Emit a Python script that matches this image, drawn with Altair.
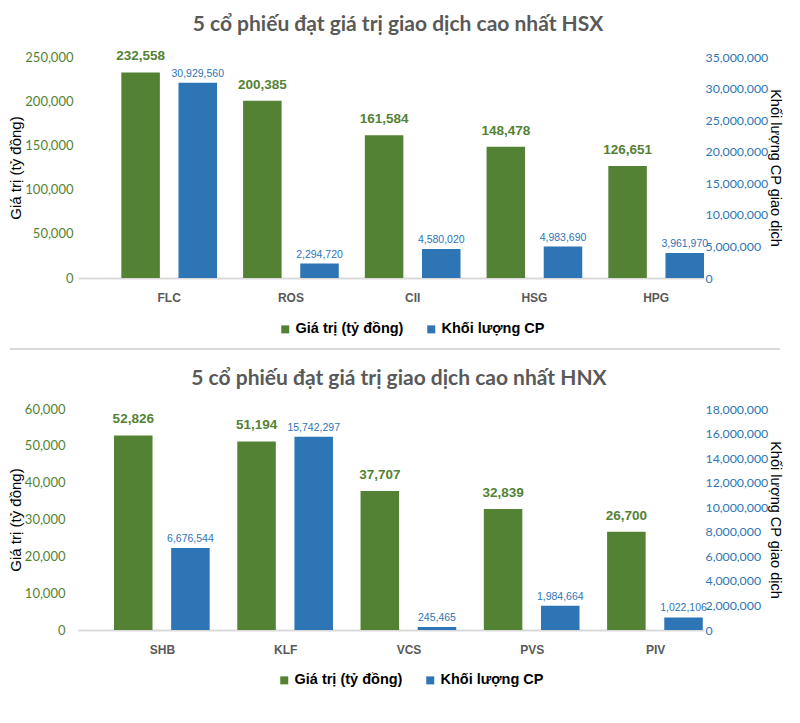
import altair as alt
import pandas as pd

# ---- data ----
hsx_tickers = ["FLC", "ROS", "CII", "HSG", "HPG"]
hsx_value = [232558, 200385, 161584, 148478, 126651]
hsx_volume = [30929560, 2294720, 4580020, 4983690, 3961970]

hnx_tickers = ["SHB", "KLF", "VCS", "PVS", "PIV"]
hnx_value = [52826, 51194, 37707, 32839, 26700]
hnx_volume = [6676544, 15742297, 245465, 1984664, 1022106]

S1 = "Giá trị (tỷ đồng)"
S2 = "Khối lượng CP"
GREEN = "#548235"
BLUE = "#2E75B6"
NARROW = "Liberation Sans Narrow, Liberation Sans, sans-serif"
AXFONT = "Lato"
W = 626


def panel(tickers, values, volumes, title, lmax, lstep, rmax, rstep, pad_outer,
          axis_offset, title_pad, legend_xy, title_dx, sep=False):
    df = pd.DataFrame({"ticker": tickers, "value": values, "volume": volumes})
    x = alt.X("ticker:N", sort=tickers,
              scale=alt.Scale(paddingInner=0.214, paddingOuter=pad_outer, align=1),
              axis=alt.Axis(title=None, labelAngle=0, labelFont="Liberation Sans",
                            labelFontWeight="bold", labelFontSize=12,
                            labelColor="#595959", labelPadding=14,
                            domainColor="#D9D9D9", domainWidth=2,
                            ticks=False, grid=False))
    xo = alt.XOffset("s:N", scale=alt.Scale(domain=[S1, S2], paddingInner=0.326,
                                            paddingOuter=0))
    color = alt.Color("s:N", scale=alt.Scale(domain=[S1, S2], range=[GREEN, BLUE]),
                      legend=alt.Legend(title=None, orient="none",
                                        legendX=legend_xy[0], legendY=legend_xy[1],
                                        direction="horizontal", symbolType="square",
                                        symbolSize=64, symbolStrokeWidth=0,
                                        labelFont="Liberation Sans",
                                        labelFontSize=14.5, labelFontWeight="bold",
                                        labelColor="#000000", labelOffset=3,
                                        columnPadding=20, padding=0))

    yl = alt.Y("value:Q", scale=alt.Scale(domain=[0, lmax], nice=False),
               axis=alt.Axis(orient="left", title=S1, offset=axis_offset,
                             values=list(range(0, lmax + 1, lstep)), format=",d",
                             labelFont=AXFONT, labelFontSize=13, labelColor=GREEN,
                             labelPadding=13, domain=False, ticks=False, grid=False,
                             titleFont="Liberation Sans", titleFontSize=15,
                             titleFontWeight="normal", titleColor="#000000",
                             titlePadding=title_pad))
    yr = alt.Y("volume:Q", scale=alt.Scale(domain=[0, rmax], nice=False),
               axis=alt.Axis(orient="right", title="Khối lượng CP giao dịch",
                             values=list(range(0, rmax + 1, rstep)), format=",d",
                             labelFont=AXFONT, labelFontSize=12.3, labelColor=BLUE,
                             labelPadding=1, domain=False, ticks=False, grid=False,
                             titleFont="Liberation Sans", titleFontSize=14.5,
                             titleFontWeight="normal", titleColor="#000000",
                             titlePadding=0))

    b1 = alt.Chart(df).transform_calculate(s=f"'{S1}'").encode(x=x, xOffset=xo, y=yl)
    left = alt.layer(
        b1.mark_bar(color=GREEN).encode(color=color),
        b1.mark_text(baseline="bottom", dy=-9, font=NARROW, fontSize=13.5,
                     fontWeight="bold", color=GREEN).encode(
            text=alt.Text("value:Q", format=",d")),
    )
    b2 = alt.Chart(df).transform_calculate(s=f"'{S2}'").encode(x=x, xOffset=xo, y=yr)
    right = alt.layer(
        b2.mark_bar(color=BLUE).encode(color=color),
        b2.mark_text(baseline="bottom", dy=-4, font=NARROW, fontSize=10.5,
                     color=BLUE).encode(text=alt.Text("volume:Q", format=",d")),
    )
    layers = [left, right]
    if sep:
        layers.append(
            alt.Chart(df).mark_rule(color="#D9D9D9", strokeWidth=1.5).encode(
                x=alt.value(-68), x2=alt.value(W + 76), y=alt.value(292))
        )
    return alt.layer(*layers).resolve_scale(y="independent").properties(
        width=W, height=221,
        title=alt.TitleParams(title, font="Lato", fontSize=21, fontWeight="bold",
                              color="#595959", anchor="middle", offset=14, dx=title_dx),
    )


top = panel(hsx_tickers, hsx_value, hsx_volume,
            "5 cổ phiếu đạt giá trị giao dịch cao nhất HSX",
            250000, 50000, 35000000, 5000000, 0.178, -8, 1, (200, 265), 7, sep=True)
bottom = panel(hnx_tickers, hnx_value, hnx_volume,
               "5 cổ phiếu đạt giá trị giao dịch cao nhất HNX",
               60000, 10000, 18000000, 2000000, 0.146, 0, 1, (199, 264), 8)

chart = alt.vconcat(top, bottom, spacing=18).resolve_scale(
    color="independent"
).properties(
    padding={"left": 0, "right": 0, "top": 6, "bottom": 0}
).configure_view(stroke=None)

chart.save("out.html", embed_options={"renderer": "svg", "actions": False})
